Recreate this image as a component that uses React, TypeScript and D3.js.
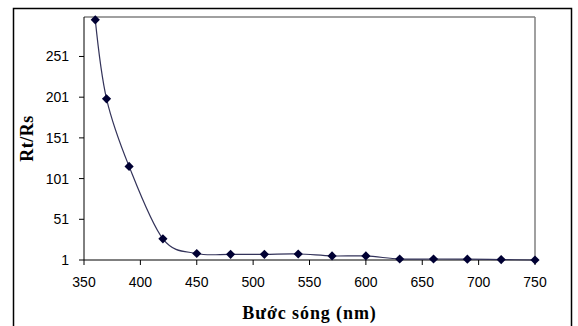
import React from "react";
import * as d3 from "d3";

const wavelengths = [360, 370, 390, 420, 450, 480, 510, 540, 570, 600, 630, 660, 690, 720, 750];
const ratios = [296, 199, 116, 27, 9, 8, 8, 8.4, 6, 6, 2.2, 2.2, 2, 1.5, 1];
const xTicks = [350, 400, 450, 500, 550, 600, 650, 700, 750];
const yTicks = [1, 51, 101, 151, 201, 251];
const xTitle = "Bước sóng (nm)";
const yTitle = "Rt/Rs";

export default function App() {
  const W = 578, H = 326;
  const left = 84, right = 535, top = 17, bottom = 260;
  const x = d3.scaleLinear().domain([350, 750]).range([left, right]);
  const y = d3.scaleLinear().domain([1, 299.5]).range([bottom, top]);
  const line = d3
    .line<number>()
    .x((_, i) => x(wavelengths[i]))
    .y((d) => y(d))
    .curve(d3.curveCardinal.tension(0));
  const r = 4.6;
  const diamond = `M0,${-r}L${r},0L0,${r}L${-r},0Z`;
  const navy = "#000033";
  return (
    <svg
      width={W}
      height={H}
      style={{ position: "fixed", left: 0, top: 0, background: "#fff" }}
    >
      <rect x={0} y={0} width={W} height={H} fill="#fff" />
      <rect x={13.5} y={8.5} width={558} height={340} fill="#fff" stroke="#000" strokeWidth={1.5} />
      <line x1={right} x2={right} y1={top} y2={bottom} stroke="#808080" strokeWidth={1.5} />
      <line x1={left} x2={right} y1={top} y2={top} stroke="#808080" strokeWidth={1.5} />
      <line x1={left} x2={left} y1={top} y2={bottom} stroke="#000" strokeWidth={1} />
      <line x1={left} x2={right} y1={bottom} y2={bottom} stroke="#000" strokeWidth={1} />
      {yTicks.map((t) => (
        <g key={"y" + t}>
          <line x1={left - 5} x2={left} y1={y(t)} y2={y(t)} stroke="#000" />
          <text
            x={69}
            y={y(t) + 5}
            textAnchor="end"
            fontFamily="Liberation Sans, Arial, sans-serif"
            fontSize={14}
            fill="#000"
          >
            {t}
          </text>
        </g>
      ))}
      {xTicks.map((t) => (
        <g key={"x" + t}>
          <line x1={x(t)} x2={x(t)} y1={bottom} y2={bottom + 5} stroke="#000" />
          <text
            x={x(t)}
            y={287}
            textAnchor="middle"
            fontFamily="Liberation Sans, Arial, sans-serif"
            fontSize={14}
            fill="#000"
          >
            {t}
          </text>
        </g>
      ))}
      <path d={line(ratios) || ""} fill="none" stroke="#33335a" strokeWidth={1.2} />
      {ratios.map((v, i) => (
        <path
          key={"m" + i}
          d={diamond}
          transform={`translate(${x(wavelengths[i])},${y(v)})`}
          fill={navy}
        />
      ))}
      <text
        x={(left + right) / 2}
        y={319}
        textAnchor="middle"
        fontFamily="Liberation Serif, Times New Roman, serif"
        fontWeight="bold"
        fontSize={18}
        letterSpacing={0.9}
        fill="#000"
      >
        {xTitle}
      </text>
      <text
        transform={`translate(33,${(top + bottom) / 2}) rotate(-90)`}
        textAnchor="middle"
        fontFamily="Liberation Serif, Times New Roman, serif"
        fontWeight="bold"
        fontSize={18}
        letterSpacing={0.5}
        fill="#000"
      >
        {yTitle}
      </text>
    </svg>
  );
}
